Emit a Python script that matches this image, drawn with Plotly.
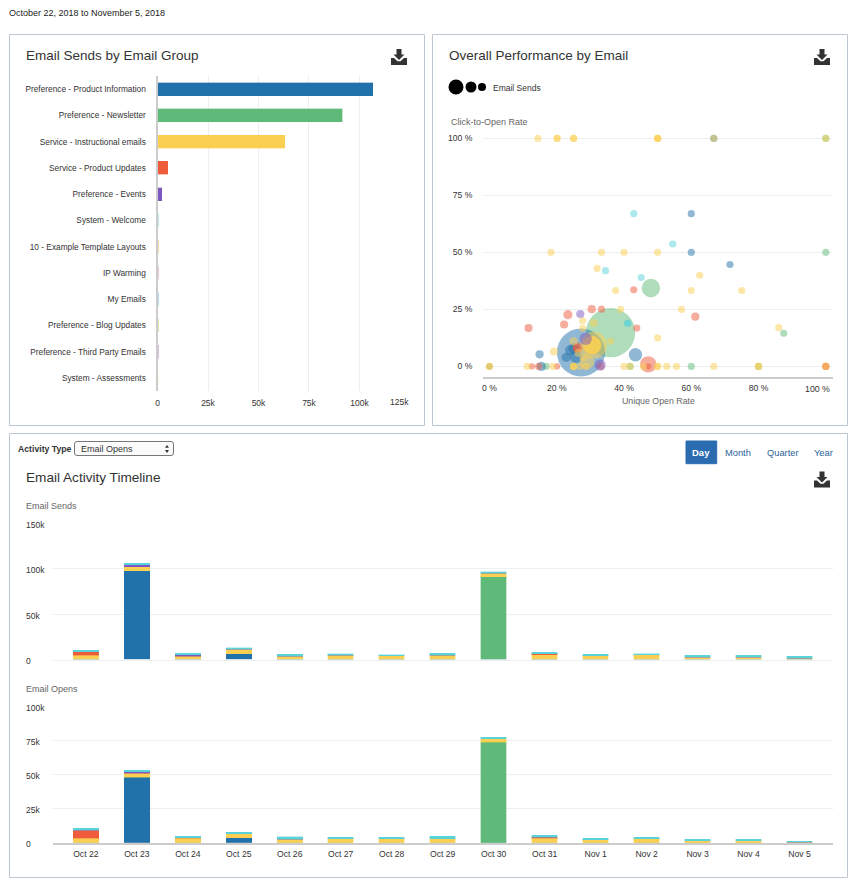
import plotly.graph_objects as go

W, H = 853, 882

# ---------- data ----------
group_names = ["Preference - Product Information", "Preference - Newsletter", "Service - Instructional emails",
               "Service - Product Updates", "Preference - Events", "System - Welcome",
               "10 - Example Template Layouts", "IP Warming", "My Emails", "Preference - Blog Updates",
               "Preference - Third Party Emails", "System - Assessments"]
group_sends = [106500, 91500, 63000, 5000, 2000, 600, 500, 500, 600, 500, 600, 400]
group_colors = ["#2171aa", "#5fb978", "#fbd052", "#ee5c3c", "#7e57c2", "#bfecee",
                "#fcdcb0", "#f0c8d8", "#b6e0f6", "#e0e6b0", "#d8c0e6", "#f8f0c0"]

days = ["Oct 22", "Oct 23", "Oct 24", "Oct 25", "Oct 26", "Oct 27", "Oct 28", "Oct 29", "Oct 30", "Oct 31",
        "Nov 1", "Nov 2", "Nov 3", "Nov 4", "Nov 5"]

sends_blue   = [0, 97500, 0, 6300, 0, 0, 0, 0, 0, 0, 0, 0, 0, 0, 0]
sends_green  = [0, 0, 0, 0, 0, 0, 0, 0, 91200, 0, 0, 0, 0, 0, 0]
sends_yellow = [4400, 4500, 3700, 5100, 3700, 4800, 4000, 4800, 3800, 5200, 4000, 5200, 2200, 2200, 1500]
sends_red    = [4100, 0, 0, 0, 0, 0, 0, 0, 0, 1400, 0, 0, 0, 0, 0]
sends_purple = [0, 2500, 1300, 0, 0, 0, 0, 0, 0, 0, 0, 0, 0, 0, 0]
sends_teal   = [1800, 1500, 2000, 1500, 2200, 1800, 1500, 2200, 1400, 1500, 1900, 1400, 2600, 2600, 2200]

opens_blue   = [0, 48300, 0, 3700, 0, 0, 0, 0, 0, 0, 0, 0, 0, 0, 0]
opens_green  = [0, 0, 0, 0, 0, 0, 0, 0, 74000, 0, 0, 0, 0, 0, 0]
opens_yellow = [3400, 2700, 3200, 2900, 2500, 2900, 2900, 2900, 2400, 3400, 2000, 2900, 1500, 1500, 300]
opens_red    = [5900, 0, 500, 0, 0, 0, 0, 0, 0, 500, 0, 0, 0, 0, 0]
opens_purple = [0, 1000, 0, 0, 0, 0, 0, 0, 0, 0, 0, 0, 0, 0, 0]
opens_teal   = [1200, 1400, 1200, 1200, 1700, 1000, 1000, 1700, 1000, 1500, 1400, 1000, 1000, 1000, 900]

blue_open = [27.2, 24, 22.8, 25.7, 25, 14.9, 15.4, 43.4, 60, 60, 71.5, 0, 66.7]
blue_ctor = [6.1, 7.2, 4, 4.2, 7.9, 5.3, 0, 5.1, 67, 50, 44.7, 0, 100]
blue_sends = [22000, 1000, 800, 1400, 1000, 640, 800, 1700, 490, 490, 490, 360, 490]

green_open = [36, 48, 100, 87.5, 100, 41.8, 60, 16.8, 80]
green_ctor = [14.8, 34.4, 50, 14.5, 100, 0, 0, 0, 0]
green_sends = [23000, 3200, 490, 490, 490, 490, 490, 490, 490]

yellow_open = [14.4, 20.1, 20.1, 25, 25, 50, 50, 50, 66.7, 100, 18.3, 33.3, 40, 50, 32, 62.5, 37.5, 60, 75, 39, 57.1,
               27.7, 27.7, 31, 86, 50, 36, 19.2, 11.2, 18.8, 40, 41.8, 52.7, 55.6, 66.7, 80, 80, 100, 0, 0, 25, 25, 25,
               27, 28.7, 50, 50, 45.8, 31, 30.5, 30.5, 30.5, 29, 25, 26.5, 28]
yellow_ctor = [100, 100, 100, 100, 100, 100, 100, 100, 100, 100, 50, 50, 50, 50, 43, 40, 33.3, 33.3, 33.3, 25, 25,
               20, 16.7, 19, 17, 12.5, 11, 6.5, 0, 0, 0, 0, 0, 0, 0, 0, 0, 0, 0, 0, 0, 0, 0,
               0, 0, 0, 0, 0, 9.3, 9.3, 9.3, 9.3, 2, 11, 6, 4]
yellow_sends = [490, 490, 490, 490, 490, 490, 490, 490, 490, 490, 490, 490, 490, 490, 490, 490, 490, 490, 490, 490, 490,
                490, 490, 640, 490, 490, 490, 640, 490, 490, 490, 490, 490, 490, 490, 490, 490, 490, 490, 490, 490, 490, 490,
                490, 490, 490, 490, 490, 6800, 3200, 3200, 3200, 2000, 640, 640, 640]

red_open = [11.6, 22.2, 23.3, 30.4, 33.3, 42.9, 43.8, 61.2, 47.2, 47.2, 12.6, 14.6, 20.1, 100, 100, 26.3, 26, 33.1]
red_ctor = [16.8, 18.4, 22.7, 25.1, 25.1, 33.6, 16.8, 21.8, 0.9, 0, 0, 0, 0, 0, 0, 8.3, 8, 0]
red_sends = [640, 640, 810, 640, 490, 490, 490, 640, 2560, 360, 360, 490, 360, 490, 490, 1000, 640, 490]

purple_open = [27, 28.6, 32.9]
purple_ctor = [23, 12.1, 0.6]
purple_sends = [640, 1440, 1210]

teal_open = [42.9, 54.5, 34.5, 45.1, 41.1, 41.1]
teal_ctor = [67, 53.7, 42, 39, 18.9, 18.9]
teal_sends = [490, 490, 490, 490, 490, 490]

# ---------- helpers ----------
FONT = "Liberation Sans, Arial, sans-serif"
BLUE, GREEN, YELLOW, RED, PURPLE, TEAL = "#2171aa", "#5fb978", "#fbd052", "#ee5c3c", "#7e57c2", "#58d3d9"


def fx(px):
    return px / W


def fy(py):
    return 1 - py / H


def rgba(h, a):
    h = h.lstrip("#")
    return f"rgba({int(h[0:2],16)},{int(h[2:4],16)},{int(h[4:6],16)},{a})"


annots, shapes = [], []


def text(px, py, s, size=10, color="#333333", anchor="left", bold=False):
    annots.append(dict(x=fx(px), y=fy(py), xref="paper", yref="paper", text=f"<b>{s}</b>" if bold else s,
                       showarrow=False, xanchor=anchor, yanchor="middle", align=anchor,
                       font=dict(family=FONT, size=size, color=color), borderpad=0, borderwidth=0))


def rect(x0, y0, x1, y1, line="#bdc7d1", fill="rgba(0,0,0,0)", width=1):
    shapes.append(dict(type="rect", xref="paper", yref="paper", x0=fx(x0), x1=fx(x1), y0=fy(y0), y1=fy(y1),
                       line=dict(color=line, width=width), fillcolor=fill, layer="below"))


def poly(pts, fill, ):
    path = "M " + " L ".join(f"{fx(x):.5f},{fy(y):.5f}" for x, y in pts) + " Z"
    shapes.append(dict(type="path", xref="paper", yref="paper", path=path, fillcolor=fill,
                       line=dict(width=0), layer="above"))


def circle(cx, cy, d):
    shapes.append(dict(type="circle", xref="paper", yref="paper", x0=fx(cx - d / 2), x1=fx(cx + d / 2),
                       y0=fy(cy - d / 2), y1=fy(cy + d / 2), fillcolor="#000000", line=dict(width=0)))


def download(cx, cy):
    c = "#333333"
    poly([(cx - 2.5, cy - 8), (cx + 2.5, cy - 8), (cx + 2.5, cy - 2.5), (cx + 5.5, cy - 2.5), (cx, cy + 3),
          (cx - 5.5, cy - 2.5), (cx - 2.5, cy - 2.5)], c)
    poly([(cx - 8, cy + 1), (cx - 5, cy + 1), (cx - 1.5, cy + 4.3), (cx + 1.5, cy + 4.3), (cx + 5, cy + 1),
          (cx + 8, cy + 1), (cx + 8, cy + 8), (cx - 8, cy + 8)], c)


fig = go.Figure()

# ---------- panels ----------
rect(9.5, 34.5, 424.5, 425.5)
rect(432.5, 34.5, 847.5, 425.5)
rect(9.5, 433.5, 847.5, 877.5)

# ---------- bar chart ----------
fig.add_trace(go.Bar(x=group_sends, y=group_names, orientation="h", xaxis="x", yaxis="y", width=0.5,
                     marker=dict(color=group_colors,
                                 line=dict(color=[rgba(c, 0.35) for c in group_colors], width=1))))

# ---------- bubble chart ----------
for xs, ys, ss, c in [(green_open, green_ctor, green_sends, GREEN), (blue_open, blue_ctor, blue_sends, BLUE),
                      (red_open, red_ctor, red_sends, RED), (yellow_open, yellow_ctor, yellow_sends, YELLOW),
                      (purple_open, purple_ctor, purple_sends, PURPLE), (teal_open, teal_ctor, teal_sends, TEAL)]:
    fig.add_trace(go.Scatter(x=xs, y=ys, mode="markers", xaxis="x2", yaxis="y2", cliponaxis=False,
                             marker=dict(size=ss, sizemode="area", sizeref=19, color=c, opacity=0.5,
                                         line=dict(width=0))))

# ---------- timelines ----------
for (series, xa, ya) in [((sends_blue, sends_green, sends_yellow, sends_red, sends_purple, sends_teal), "x3", "y3"),
                         ((opens_blue, opens_green, opens_yellow, opens_red, opens_purple, opens_teal), "x4", "y4")]:
    for vals, c in zip(series, (BLUE, GREEN, YELLOW, RED, PURPLE, TEAL)):
        fig.add_trace(go.Bar(x=days, y=vals, xaxis=xa, yaxis=ya, width=0.5,
                             marker=dict(color=c, line=dict(color=rgba(c, 0.35), width=1))))

# ---------- texts ----------
text(9, 13, "October 22, 2018 to November 5, 2018", 9, "#222222")
text(26, 55.5, "Email Sends by Email Group", 13.5)
text(449, 55.5, "Overall Performance by Email", 13.5)
text(26, 477, "Email Activity Timeline", 13.6)
text(493, 88, "Email Sends", 8.5)
text(450.5, 122, "Click-to-Open Rate", 9, "#666666")
text(658, 400.5, "Unique Open Rate", 8.8, "#666666", anchor="center")
text(26, 505.5, "Email Sends", 9, "#666666")
text(26, 689, "Email Opens", 9, "#666666")
text(17.7, 449, "Activity Type", 8.7, "#333333", bold=True)
text(81, 449, "Email Opens", 9, "#333333")

# dropdown
shapes.append(dict(type="path", xref="paper", yref="paper", layer="below",
                   path=f"M {fx(77)},{fy(441.5)} L {fx(171)},{fy(441.5)} Q {fx(173.5)},{fy(441.5)} {fx(173.5)},{fy(444)} "
                        f"L {fx(173.5)},{fy(453)} Q {fx(173.5)},{fy(455.5)} {fx(171)},{fy(455.5)} L {fx(77)},{fy(455.5)} "
                        f"Q {fx(74.5)},{fy(455.5)} {fx(74.5)},{fy(453)} L {fx(74.5)},{fy(444)} Q {fx(74.5)},{fy(441.5)} {fx(77)},{fy(441.5)} Z",
                   line=dict(color="#777777", width=1), fillcolor="#fbfbfb"))
poly([(165, 447.8), (169, 447.8), (167, 445)], "#333333")
poly([(165, 450), (169, 450), (167, 453)], "#333333")

# period buttons
rect(686, 441, 716.7, 463.7, line="#2b6cb0", fill="#2b6cb0")
text(701.3, 452.7, "Day", 9.5, "#ffffff", anchor="center", bold=True)
text(738.3, 452.7, "Month", 9.3, "#2d5f9a", anchor="center")
text(783, 452.7, "Quarter", 9.3, "#2d5f9a", anchor="center")
text(823.5, 452.7, "Year", 9.3, "#2d5f9a", anchor="center")

download(399, 57)
download(822, 57)
download(822, 479.5)

# bubble legend
circle(456, 87, 15)
circle(471, 87, 11)
circle(482, 87, 8)

# off-centre end tick labels
annots.append(dict(x=125000, xref="x", y=fy(402.5), yref="paper", text="125k", showarrow=False, xanchor="right",
                   xshift=1, yanchor="middle", font=dict(family=FONT, size=8.5, color="#333333")))
annots.append(dict(x=fx(832), xref="paper", y=fy(388.5), yref="paper", text="100 %", showarrow=False, xanchor="right",
                   yanchor="middle", font=dict(family=FONT, size=8.8, color="#333333")))

# left-aligned value labels for timelines
for ya, vals, labels in [("y3", [0, 50000, 100000, 150000], ["0", "50k", "100k", "150k"]),
                         ("y4", [0, 25000, 50000, 75000, 100000], ["0", "25k", "50k", "75k", "100k"])]:
    for v, l in zip(vals, labels):
        annots.append(dict(x=fx(24), xref="paper", y=v, yref=ya, text=l, showarrow=False, xanchor="left",
                           yanchor="middle", yshift=-1.5, font=dict(family=FONT, size=8.5, color="#333333")))

# ---------- layout ----------
GRID = "#eceef0"
tick = dict(family=FONT, size=8.5, color="#333333")
tick_cat = dict(family=FONT, size=8.3, color="#333333")
tick2 = dict(family=FONT, size=8.6, color="#333333")
fig.update_layout(
    template="none",
    width=W, height=H, margin=dict(l=0, r=0, t=0, b=0, pad=0), paper_bgcolor="white", plot_bgcolor="white",
    showlegend=False, barmode="stack", annotations=annots, shapes=shapes, font=dict(family=FONT),
    xaxis=dict(domain=[fx(157.5), fx(411)], anchor="y", range=[0, 125500], tickvals=[0, 25000, 50000, 75000, 100000],
               ticktext=["0", "25k", "50k", "75k", "100k"], showgrid=True, gridcolor=GRID, gridwidth=1, zeroline=False,
               showline=False, ticks="", tickfont=tick, ticklabelstandoff=5, automargin=False),
    yaxis=dict(domain=[fy(391), fy(76)], anchor="x", autorange=False, range=[11.5, -0.5], type="category",
               showgrid=False, zeroline=False, showline=True, linecolor="#cccccc", linewidth=2, ticks="",
               tickfont=tick_cat, ticklabelstandoff=8, automargin=False),
    xaxis2=dict(domain=[fx(483.3), fx(832.7)], anchor="y2", range=[-1.84, 102.05], tickvals=[0, 20, 40, 60, 80],
                ticktext=["0 %", "20 %", "40 %", "60 %", "80 %"], showgrid=False, zeroline=False, showline=True,
                linecolor="#cccccc", linewidth=2, ticks="", tickfont=tick2, ticklabelstandoff=2, automargin=False),
    yaxis2=dict(domain=[fy(376.7), fy(132)], anchor="x2", range=[-4.5, 102.8], tickvals=[0, 25, 50, 75, 100],
                ticktext=["0 %", "25 %", "50 %", "75 %", "100 %"], showgrid=True, gridcolor=GRID, gridwidth=1,
                zeroline=False, showline=False, ticks="", tickfont=tick2, ticklabelstandoff=10, automargin=False),
    xaxis3=dict(domain=[fx(52.7), fx(832.7)], anchor="y3", range=[-0.65, 14.65], type="category",
                categoryorder="array", categoryarray=days, showticklabels=False, showgrid=False, zeroline=False,
                showline=True, linecolor=GRID, linewidth=1, ticks="", automargin=False),
    yaxis3=dict(domain=[fy(659.5), fy(523.3)], anchor="x3", range=[0, 150000], tickvals=[0, 50000, 100000, 150000],
                showticklabels=False, showgrid=True, gridcolor=GRID, gridwidth=1, zeroline=False, showline=False,
                ticks="", automargin=False),
    xaxis4=dict(domain=[fx(52.7), fx(832.7)], anchor="y4", range=[-0.65, 14.65], type="category",
                categoryorder="array", categoryarray=days, showgrid=False, zeroline=False, showline=True,
                linecolor="#cccccc", linewidth=2, ticks="", tickfont=tick2, ticklabelstandoff=2, automargin=False),
    yaxis4=dict(domain=[fy(842.7), fy(706.7)], anchor="x4", range=[0, 100000], tickvals=[0, 25000, 50000, 75000, 100000],
                showticklabels=False, showgrid=True, gridcolor=GRID, gridwidth=1, zeroline=False, showline=False,
                ticks="", automargin=False),
)

fig.write_html("out.html", config=dict(displayModeBar=False), post_script="document.body.style.margin='0';document.body.style.overflow='hidden';")
